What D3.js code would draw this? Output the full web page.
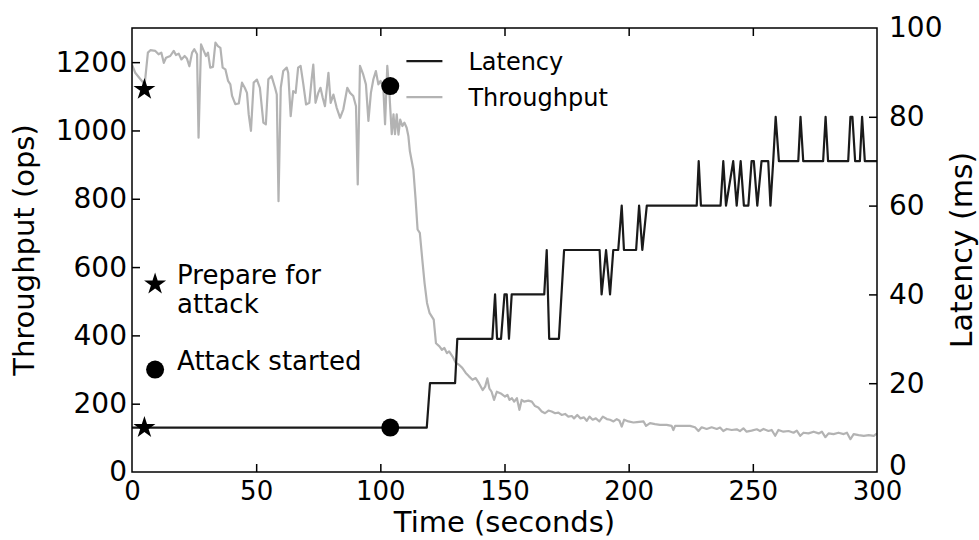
<!DOCTYPE html>
<html>
<head>
<meta charset="utf-8">
<script src="https://cdn.jsdelivr.net/npm/d3@7"></script>
<style>
  html, body { margin: 0; padding: 0; background: #fff; }
  svg { display: block; font-family: "DejaVu Sans", sans-serif; }
</style>
</head>
<body>
<svg id="chart" width="979" height="540"></svg>
<script>
// Throughput samples: time (s) and ops
const throughputTime = [0,1.3,3.4,5.1,6.4,7.4,9.4,10.7,11.8,12.8,13.7,15.4,16.8,17.7,18.8,19.9,21.2,22.1,23.1,24.2,25.1,26.2,26.8,27.8,28.9,29.8,30.6,31.5,32.6,33.6,34.6,35.6,36.5,37.6,38.7,39.6,40.3,41.6,43.0,44.3,45.4,46.3,47.0,47.9,49.0,50.3,51.5,52.9,53.9,54.9,56.2,57.6,58.3,59.0,59.9,60.9,62.3,62.9,63.9,64.9,65.9,66.9,67.9,69.0,70.1,71.4,72.4,73.0,73.9,75.0,75.9,76.8,77.7,79.1,80.0,81.1,82.4,83.8,85.1,86.7,87.8,89.1,90.2,90.9,91.8,93.1,94.2,95.2,96.2,97.2,98.2,99.2,100.1,101.2,101.9,102.8,103.6,104.6,105.3,105.9,106.6,107.3,108.0,108.9,109.7,110.6,111.3,111.9,113.3,114.2,115.0,115.9,116.9,117.8,118.8,119.8,121.5,122.4,123.8,124.8,125.8,126.8,127.7,129.1,130.4,131.7,133.0,134.4,135.7,137.1,138.4,139.7,141.2,142.2,143.1,143.9,144.8,145.8,146.9,148.5,150.2,151.2,152.0,153.0,153.9,155.0,156.0,156.9,157.9,159.6,161.0,162.3,163.6,165.0,166.3,167.7,169.0,170.4,171.7,173.0,174.4,175.7,177.1,178.0,179.3,180.6,182.0,183.1,184.2,185.5,186.8,188.2,189.6,191.2,192.5,193.9,195.2,196.3,197.2,198.2,199.9,201.9,203.3,206.0,207.0,208.6,210.6,212.6,215.3,217.3,218.0,218.7,221.4,224.7,226.7,228.1,229.4,231.4,233.4,235.5,236.8,238.1,239.5,241.5,243.5,244.8,246.2,247.5,249.5,251.6,252.9,254.3,256.3,257.6,259.0,260.3,262.3,264.4,266.4,267.7,269.1,270.4,272.4,274.5,276.5,277.8,279.2,280.5,282.5,284.5,286.6,287.9,289.3,290.6,292.6,294.7,296.7,298.7,300];
const throughputOps = [1193,1169,1150,1135,1228,1235,1233,1223,1228,1198,1213,1218,1233,1221,1225,1208,1218,1211,1188,1228,1238,1223,979,1252,1233,1218,1228,1184,1186,1257,1247,1242,1184,1179,1145,1135,1101,1077,1079,1140,1125,1110,1047,999,1140,1149,1125,1023,1018,1150,1159,1125,1105,793,1125,1174,1184,1169,1042,1115,1110,1184,1189,1135,1076,1081,1154,1193,1081,1110,1125,1096,1071,1169,1081,1105,1067,1037,1062,1125,1110,1101,1071,842,1189,1164,1135,1028,1110,1150,1174,1135,1145,1125,1018,1189,1115,989,1047,989,1047,988,1032,1013,1023,1008,983,939,885,798,710,700,622,554,495,466,446,377,368,358,363,348,353,338,319,314,305,290,280,270,275,260,240,250,274,245,235,211,235,230,221,226,211,216,206,216,182,211,206,209,206,193,189,177,172,180,177,172,174,167,170,162,164,157,167,157,160,150,162,153,157,148,162,155,153,148,155,150,133,153,148,145,146,148,135,143,140,138,138,135,123,135,135,135,131,120,131,126,131,126,130,120,126,123,125,120,128,118,121,125,120,126,120,123,106,123,118,120,115,121,106,115,113,118,113,118,102,113,111,115,111,115,96,111,108,106,108,106,113];

// Latency samples: time (s) and milliseconds
const latencyTime = [0,118.7,120,130.1,131,145.1,146.2,147,148.6,150,150.9,151.8,152.9,166,167,168,171.9,174,188.3,189.1,190.9,192.5,193.8,195.8,197.2,198.1,203,204.2,205.5,207.3,227.4,228.2,229.1,237,238.1,239.2,242.1,243.5,245.1,246.4,248.2,249.5,250.4,251.8,253.5,256.2,257.1,258.2,259.2,260.5,268.3,269.2,270.3,278.3,279.3,280.3,288.4,289.3,290.1,291.2,293.1,294,295.1,300];
const latencyMs = [10,10,20,20,30,30,40,30,30,40,40,30,40,40,50,30,30,50,50,40,50,40,50,50,60,50,50,60,50,60,60,70,60,60,70,60,70,60,70,60,60,70,70,60,70,70,60,70,80,70,70,80,70,70,80,70,70,80,80,70,70,80,70,70];

// Event markers
const eventNames = ["Prepare for attack", "Attack started"];
const eventTime = [5, 104];
const eventThroughput = [1120, 1130];
const eventLatency = [10, 10];
const eventSymbols = ["star", "circle"];

// Key for the event markers, placed in throughput units
const keyLines = [["Prepare for", "attack"], ["Attack started"]];
const keyTime = [9.3, 9.3];
const keyOps = [550, 300];

// Axis ticks
const xTicks = [0, 50, 100, 150, 200, 250, 300];
const yLeftTicks = [0, 200, 400, 600, 800, 1000, 1200];
const yRightTicks = [0, 20, 40, 60, 80, 100];

const seriesNames = ["Latency", "Throughput"];
const seriesColors = ["#1a1a1a", "#b3b3b3"];

const W = 979, H = 540;
const margin = { left: 132, right: 102, top: 28, bottom: 68 };
const iw = W - margin.left - margin.right;
const ih = H - margin.top - margin.bottom;

const svg = d3.select("#chart");
const g = svg.append("g").attr("transform", `translate(${margin.left},${margin.top})`);

const x = d3.scaleLinear().domain([0, 300]).range([0, iw]);
const yL = d3.scaleLinear().domain([0, 1300]).range([ih, 0]);
const yR = d3.scaleLinear().domain([0, 100]).range([ih, 0]);

const clipId = "plot-clip";
svg.append("defs").append("clipPath").attr("id", clipId)
  .append("rect").attr("width", iw).attr("height", ih);

const plot = g.append("g").attr("clip-path", `url(#${clipId})`);

// Throughput line
const tpData = throughputTime.map((t, i) => [t, throughputOps[i]]);
plot.append("path")
  .datum(tpData)
  .attr("fill", "none")
  .attr("stroke", seriesColors[1])
  .attr("stroke-width", 2.2)
  .attr("stroke-linejoin", "round")
  .attr("d", d3.line().x(d => x(d[0])).y(d => yL(d[1])));

// Latency line
const latData = latencyTime.map((t, i) => [t, latencyMs[i]]);
plot.append("path")
  .datum(latData)
  .attr("fill", "none")
  .attr("stroke", seriesColors[0])
  .attr("stroke-width", 2.2)
  .attr("stroke-linejoin", "round")
  .attr("d", d3.line().x(d => x(d[0])).y(d => yR(d[1])));

// Marker symbols
const starPath = d3.symbol().type(d3.symbolStar).size(150)();
const circleR = 9;
function drawMarker(sel, kind, cx, cy) {
  if (kind === "star") {
    sel.append("path").attr("d", starPath)
      .attr("transform", `translate(${cx},${cy})`)
      .attr("fill", "#000");
  } else {
    sel.append("circle").attr("cx", cx).attr("cy", cy).attr("r", circleR).attr("fill", "#000");
  }
}
const markers = g.append("g");
eventTime.forEach((t, i) => {
  drawMarker(markers, eventSymbols[i], x(t), yL(eventThroughput[i]));
  drawMarker(markers, eventSymbols[i], x(t), yR(eventLatency[i]));
});

// Marker key
keyTime.forEach((t, i) => {
  const cx = x(t), cy = yL(keyOps[i]);
  drawMarker(markers, eventSymbols[i], cx, cy);
  const lines = keyLines[i];
  const txt = markers.append("text")
    .attr("font-size", 26)
    .attr("fill", "#000");
  lines.forEach((ln, j) => {
    txt.append("tspan")
      .attr("x", cx + 22)
      .attr("y", cy - 9 + j * 29)
      .attr("dy", "0.35em")
      .text(ln);
  });
});

// Frame
g.append("rect").attr("width", iw).attr("height", ih)
  .attr("fill", "none").attr("stroke", "#000").attr("stroke-width", 1.5);

const tickLen = 8;
const fmt = d3.format("d");
// Bottom axis with inward ticks, mirrored on top
const xAxisB = g.append("g").attr("transform", `translate(0,${ih})`)
  .call(d3.axisBottom(x).tickValues(xTicks).tickFormat(fmt).tickSize(-tickLen).tickPadding(10));
const xAxisT = g.append("g")
  .call(d3.axisTop(x).tickValues(xTicks).tickSize(-tickLen).tickFormat(""));
// Left axis (throughput)
const yAxisL = g.append("g")
  .call(d3.axisLeft(yL).tickValues(yLeftTicks).tickFormat(fmt).tickSize(-tickLen).tickPadding(5));
// Right axis (latency)
const yAxisR = g.append("g").attr("transform", `translate(${iw},0)`)
  .call(d3.axisRight(yR).tickValues(yRightTicks).tickFormat(fmt).tickSize(-tickLen).tickPadding(12));

[xAxisB, xAxisT, yAxisL, yAxisR].forEach(a => {
  a.select(".domain").remove();
  a.selectAll(".tick line").attr("stroke", "#000").attr("stroke-width", 1.5);
  a.selectAll(".tick text").attr("fill", "#000").attr("font-family", "DejaVu Sans, sans-serif");
});
xAxisB.selectAll(".tick text").attr("font-size", 26);
yAxisL.selectAll(".tick text").attr("font-size", 28);
yAxisR.selectAll(".tick text").attr("font-size", 28);
// the right-hand zero sits just above the last time label
yAxisR.selectAll(".tick").filter(d => d === 0).select("text").attr("dy", "0.1em");
// keep edge ticks' lines off the frame corners
[xAxisB, xAxisT].forEach(a => a.selectAll(".tick").filter(d => d === 0 || d === 300).select("line").remove());
yAxisL.selectAll(".tick").filter(d => d === 0).select("line").remove();
yAxisR.selectAll(".tick").filter(d => d === 0 || d === 100).select("line").remove();

// Axis titles
g.append("text")
  .attr("transform", `translate(${-98},${ih / 2}) rotate(-90)`)
  .attr("text-anchor", "middle")
  .attr("font-size", 29)
  .text("Throughput (ops)");
g.append("text")
  .attr("transform", `translate(${iw + 95},${ih / 2}) rotate(-90)`)
  .attr("text-anchor", "middle")
  .attr("font-size", 30)
  .text("Latency (ms)");
g.append("text")
  .attr("x", iw / 2)
  .attr("y", ih + 60)
  .attr("text-anchor", "middle")
  .attr("font-size", 29)
  .text("Time (seconds)");

// Series legend
const legend = g.append("g").attr("transform", `translate(${x(110.5)},${yL(1203)})`);
seriesNames.forEach((name, i) => {
  const row = legend.append("g").attr("transform", `translate(0,${i * 36})`);
  row.append("line").attr("x1", 0).attr("x2", 36).attr("y1", 0).attr("y2", 0)
    .attr("stroke", seriesColors[i]).attr("stroke-width", 2.2);
  row.append("text").attr("x", 62).attr("y", 0).attr("dy", "0.35em")
    .attr("font-size", 24).text(name);
});
</script>
</body>
</html>
